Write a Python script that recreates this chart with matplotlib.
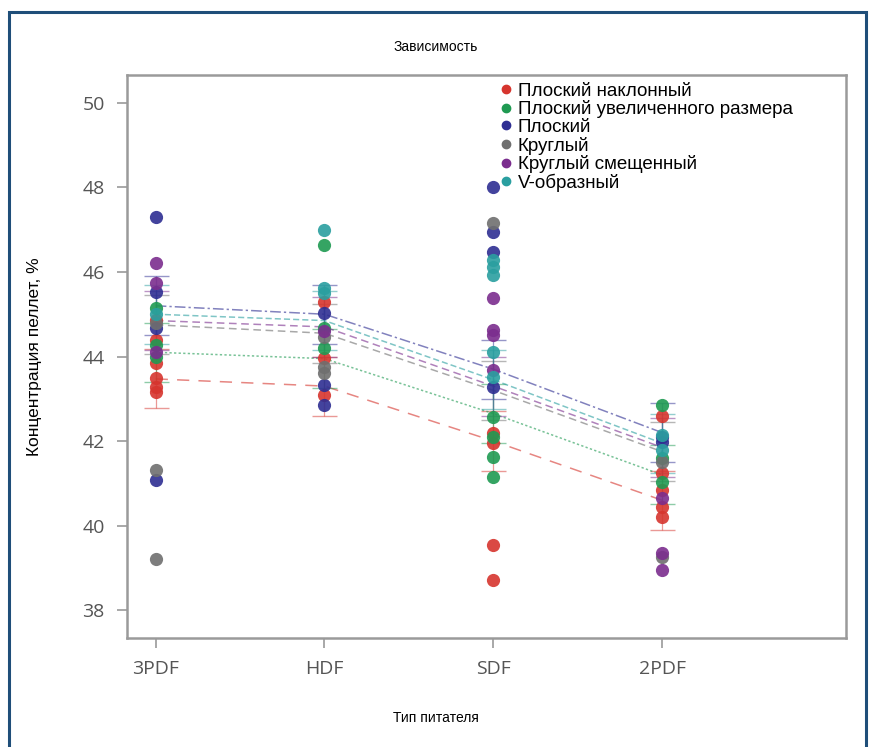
import matplotlib
matplotlib.use("Agg")
import matplotlib.pyplot as plt
from matplotlib.lines import Line2D
from matplotlib.patches import Rectangle

categories = ["3PDF", "HDF", "SDF", "2PDF"]
series_names = ["Плоский наклонный", "Плоский увеличенного размера", "Плоский",
                "Круглый", "Круглый смещенный", "V-образный"]
colors = ["#d6352e", "#1f9a52", "#2e2e92", "#6f6f6f", "#7b2d8e", "#2a9fa0"]
styles = [(0, (8, 6)), (0, (1.5, 1.5)), (0, (7, 2, 1.5, 2)), (0, (5, 3)), (0, (5, 3)), (0, (4, 2))]

# individual measurements per series, one list per feeder type
points_red = [[44.86, 44.4, 43.85, 43.49, 43.28, 43.16], [45.29, 43.96, 43.1], [41.95, 42.2, 39.54, 38.71], [42.6, 41.24, 40.84, 40.44, 40.2]]
points_green = [[45.15, 44.27, 44.0], [46.64, 44.67, 44.2], [42.57, 42.1, 41.62, 41.15], [42.85, 41.6, 41.03]]
points_blue = [[47.3, 45.53, 44.67, 41.08], [45.03, 43.33, 42.85], [48.0, 46.95, 46.47, 43.28], [41.98, 42.1]]
points_gray = [[44.8, 41.31, 39.2], [44.46, 43.75, 43.6], [47.16], [39.25, 41.5]]
points_purple = [[46.21, 45.74, 44.1], [44.6], [45.38, 44.63, 44.5, 43.68], [40.65, 39.35, 38.95]]
points_teal = [[45.0], [47.0, 45.62, 45.5], [46.28, 46.12, 45.93, 44.1, 43.52], [42.14, 41.79]]
all_points = [points_red, points_green, points_blue, points_gray, points_purple, points_teal]

# group means and CI half widths
means = [[43.47, 43.3, 42.0, 40.6],
         [44.1, 43.95, 42.65, 41.2],
         [45.2, 45.0, 43.7, 42.2],
         [44.75, 44.55, 43.2, 41.75],
         [44.85, 44.7, 43.3, 41.85],
         [45.0, 44.85, 43.45, 41.95]]
ci = [0.7, 0.7, 0.7, 0.7]

fig = plt.figure(figsize=(8.72, 7.47), dpi=100)
fig.patches.append(Rectangle((9 / 872, -0.05), (866 - 9) / 872, (747 - 12) / 747 + 0.05,
                             transform=fig.transFigure, fill=False, edgecolor="#1f4e79", lw=2.2))
ax = fig.add_axes([127 / 872, (747 - 638) / 747, (846 - 127) / 872, (638 - 75) / 747])

xs = range(len(categories))
for s, name in enumerate(series_names):
    for i in xs:
        pts = all_points[s][i]
        ax.plot([i] * len(pts), pts, "o", color=colors[s], markersize=9.5, alpha=0.9,
                markeredgewidth=0, zorder=3)
    ax.plot(list(xs), means[s], linestyle=styles[s], color=colors[s], lw=1.1, alpha=0.6, zorder=2)
    ax.errorbar(list(xs), means[s], yerr=ci, fmt="none", ecolor=colors[s], elinewidth=0.9,
                capsize=9, alpha=0.5, zorder=2)

ax.set_xlim(-0.17, 4.09)
ax.set_ylim(37.34, 50.66)
ax.set_xticks(list(xs))
ax.set_xticklabels(categories, fontsize=14, color="#555555", family="Open Sans")
ax.set_yticks([38, 40, 42, 44, 46, 48, 50])
ax.set_yticklabels(["38", "40", "42", "44", "46", "48", "50"], fontsize=14, color="#555555", family="Open Sans")
ax.tick_params(direction="out", length=7, color="#9a9a9a", width=1.2, pad=9)
for sp in ax.spines.values():
    sp.set_color("#9a9a9a")
    sp.set_linewidth(1.8)

handles = [Line2D([], [], marker="o", linestyle="", color=c, markersize=6) for c in colors]
ax.legend(handles, series_names, loc="upper left", bbox_to_anchor=(0.499, 1.003), frameon=False,
          prop={"family": "Liberation Sans", "size": 13.5}, handletextpad=0.05, labelspacing=0.03,
          borderpad=0, handlelength=1.15)

fig.text(436 / 872, 1 - 47 / 747, "Зависимость", ha="center", va="center",
         fontsize=10, family=["Liberation Sans Narrow", "Liberation Sans"])
fig.text(436 / 872, 1 - 718 / 747, "Тип питателя", ha="center", va="center",
         fontsize=10, family=["Liberation Sans Narrow", "Liberation Sans"])
fig.text(35 / 872, 1 - 357 / 747, "Концентрация пеллет, %", ha="center", va="center",
         rotation=90, fontsize=12.5, family=["Liberation Sans Narrow", "Liberation Sans"])

fig.savefig("out.png", dpi=100)
